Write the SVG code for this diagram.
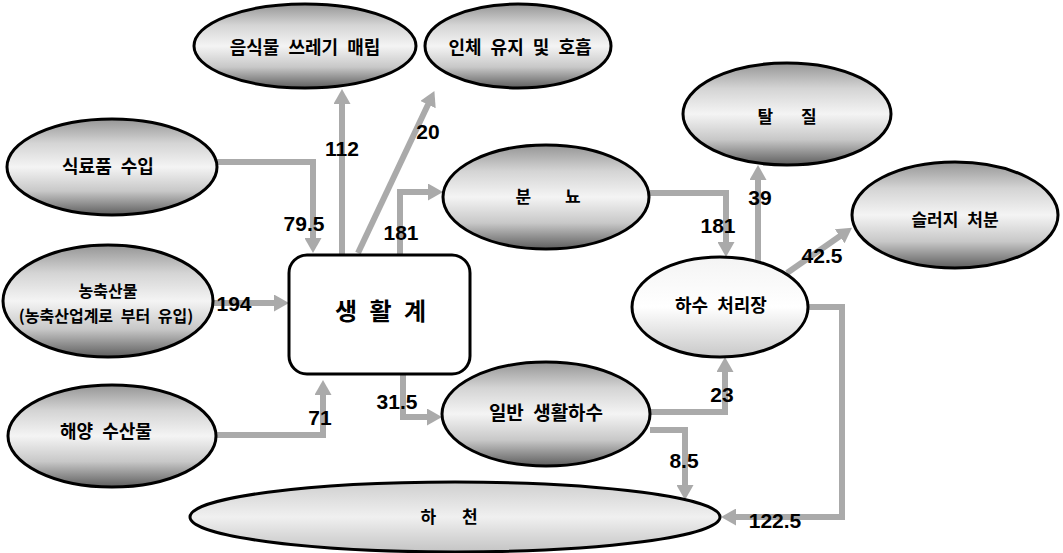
<svg xmlns="http://www.w3.org/2000/svg" width="1063" height="553" viewBox="0 0 1063 553">
<defs>
<linearGradient id="shade" x1="0" y1="0" x2="0" y2="1">
<stop offset="0" stop-color="#959595"/>
<stop offset="0.25" stop-color="#d4d4d4"/>
<stop offset="0.5" stop-color="#f4f4f4"/>
<stop offset="0.75" stop-color="#c8c8c8"/>
<stop offset="1" stop-color="#5e5e5e"/>
</linearGradient>
<linearGradient id="light" x1="0" y1="0" x2="0" y2="1">
<stop offset="0" stop-color="#f4f4f4"/>
<stop offset="0.5" stop-color="#ffffff"/>
<stop offset="1" stop-color="#c8c8c8"/>
</linearGradient>
<linearGradient id="river" x1="0" y1="0" x2="0" y2="1">
<stop offset="0" stop-color="#cfcfcf"/>
<stop offset="0.5" stop-color="#f0f0f0"/>
<stop offset="1" stop-color="#c4c4c4"/>
</linearGradient>
<marker id="arr" viewBox="0 0 15 17" refX="4" refY="8.5" markerWidth="15" markerHeight="17" markerUnits="userSpaceOnUse" orient="auto">
<path d="M0,0 L15,8.5 L0,17 z" fill="#aaaaaa"/>
</marker>
</defs>
<style>
.node{stroke:#000;stroke-width:3}
.sh{fill:url(#shade)}
.kt{font-family:"Noto Sans CJK KR","Noto Sans",sans-serif;font-weight:700;font-size:18px;fill:#000;text-anchor:middle;word-spacing:5px}
.num{font-family:"Liberation Sans",Arial,sans-serif;font-weight:700;font-size:21px;fill:#000;text-anchor:middle}
.con path{fill:none;stroke:#aaaaaa;stroke-width:6;marker-end:url(#arr)}
</style>
<rect width="1063" height="553" fill="#fff"/>

<g id="connectors" class="con">
<path d="M217,162 H313 V242"/>
<path d="M342,255 V100"/>
<path d="M358,253 L429.7,101"/>
<path d="M400,255 V192 H432"/>
<path d="M213,303 H278"/>
<path d="M215,435 H323 V391"/>
<path d="M403,374 V417 H431"/>
<path d="M650,193 H726 V246"/>
<path d="M758,262 V176"/>
<path d="M787,273 L843,234"/>
<path d="M807,307 H842 V517 H732"/>
<path d="M650,412 H725 V368"/>
<path d="M650,430 H685 V489"/>
</g>

<g id="n-food-waste">
<ellipse class="node sh" cx="305" cy="46" rx="111" ry="42"/>
<text class="kt" x="305" y="54">음식물 쓰레기 매립</text>
</g>
<g id="n-human">
<ellipse class="node sh" cx="518" cy="46" rx="93" ry="42"/>
<text class="kt" x="520" y="54">인체 유지 및 호흡</text>
</g>
<g id="n-food-import">
<ellipse class="node sh" cx="112" cy="167" rx="105" ry="48"/>
<text class="kt" x="108" y="173">식료품 수입</text>
</g>
<g id="n-agri">
<ellipse class="node sh" cx="108" cy="301" rx="105" ry="56"/>
<text class="kt" x="108" y="297" style="font-size:16px;word-spacing:4px">농축산물</text>
<text class="kt" x="106" y="322" style="font-size:16px;word-spacing:4px">(농축산업계로 부터 유입)</text>
</g>
<g id="n-marine">
<ellipse class="node sh" cx="112" cy="436" rx="104" ry="51"/>
<text class="kt" x="106" y="438">해양 수산물</text>
</g>
<g id="n-living">
<rect class="node" x="289" y="255" width="181" height="119" rx="18" fill="#fff"/>
<text class="kt" x="382" y="320" style="font-size:24px;letter-spacing:3px;word-spacing:1px">생 활 계</text>
</g>
<g id="n-excreta">
<ellipse class="node sh" cx="546" cy="197" rx="103" ry="52"/>
<text class="kt" x="548" y="203" style="font-size:17px;word-spacing:30px">분 뇨</text>
</g>
<g id="n-denitr">
<ellipse class="node sh" cx="787" cy="114" rx="104" ry="51"/>
<text class="kt" x="787" y="123" style="font-size:17px;word-spacing:24px">탈 질</text>
</g>
<g id="n-sludge">
<ellipse class="node sh" cx="955" cy="215" rx="103" ry="53"/>
<text class="kt" x="955" y="226" style="font-size:17px">슬러지 처분</text>
</g>
<g id="n-stp">
<ellipse class="node" cx="720" cy="307" rx="88" ry="50" fill="url(#light)"/>
<text class="kt" x="721" y="312">하수 처리장</text>
</g>
<g id="n-sewage">
<ellipse class="node sh" cx="546" cy="414" rx="104" ry="52"/>
<text class="kt" x="546" y="420" style="font-size:19px">일반 생활하수</text>
</g>
<g id="n-river">
<ellipse class="node" cx="455" cy="517" rx="265" ry="35" fill="url(#river)"/>
<text class="kt" x="449" y="523" style="font-size:17px;word-spacing:22px">하 천</text>
</g>

<g id="labels">
<text class="num" x="304" y="231">79.5</text>
<text class="num" x="342" y="156">112</text>
<text class="num" x="428" y="139">20</text>
<text class="num" x="401" y="240">181</text>
<text class="num" x="234" y="311">194</text>
<text class="num" x="320" y="425">71</text>
<text class="num" x="397" y="409">31.5</text>
<text class="num" x="718" y="233">181</text>
<text class="num" x="760" y="205">39</text>
<text class="num" x="822" y="263">42.5</text>
<text class="num" x="722" y="402">23</text>
<text class="num" x="684" y="468">8.5</text>
<text class="num" x="775" y="528">122.5</text>
</g>
</svg>
